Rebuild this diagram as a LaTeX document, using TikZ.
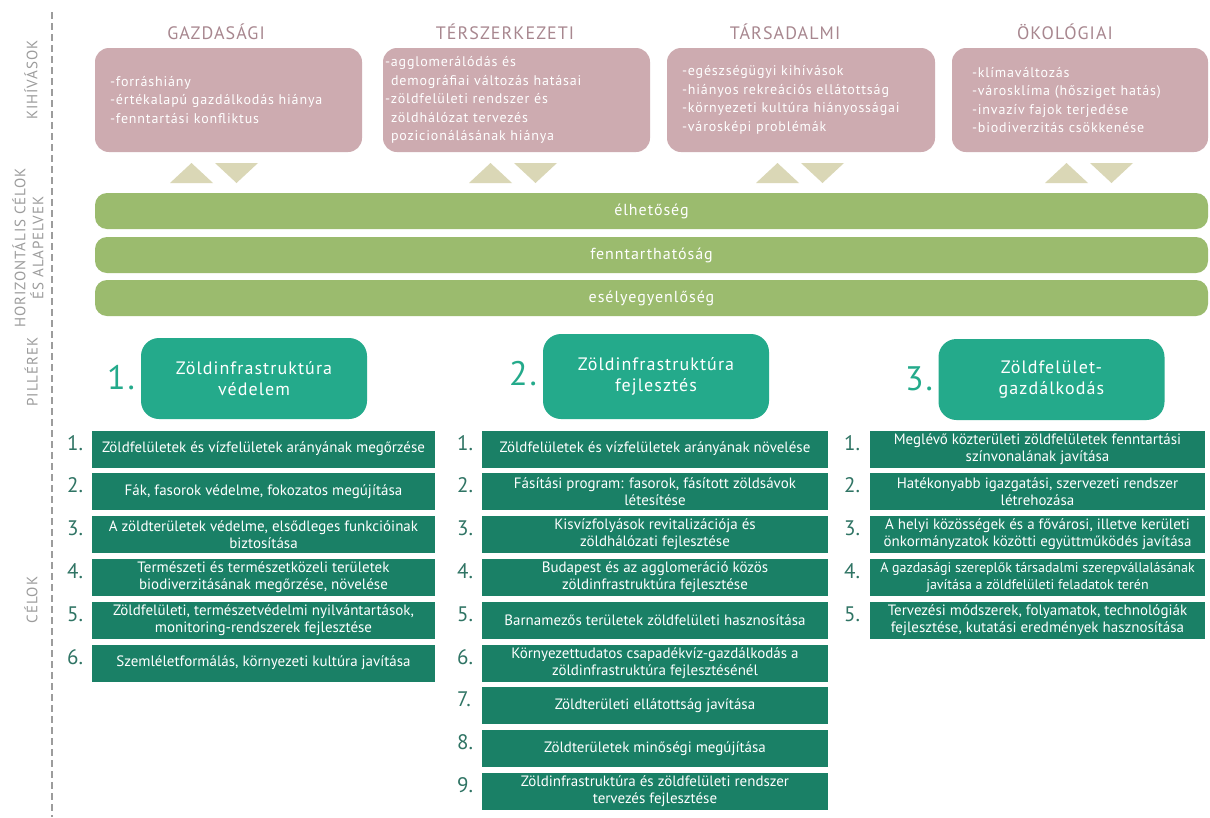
\documentclass[tikz,border=0pt]{standalone}
\usepackage{fontspec}
\setmainfont{PT Sans}
\newfontfamily\dinfont[LetterSpace=6]{PT Sans}
\definecolor{rose}{HTML}{CDABB0}
\definecolor{roseText}{HTML}{A8878F}
\definecolor{khaki}{HTML}{DAD7B6}
\definecolor{leaf}{HTML}{9BBB6E}
\definecolor{pillarCol}{HTML}{24AA8B}
\definecolor{goalCol}{HTML}{1A8066}
\definecolor{goalNum}{HTML}{2F7464}
\definecolor{sideCol}{HTML}{9C9C9C}

\begin{document}
\begin{tikzpicture}[x=1pt,y=-1pt,
  sidelabel/.style={rotate=90,text=sideCol,align=center,
    font=\dinfont\fontsize{15}{18}\selectfont},
  title/.style={text=roseText,font=\dinfont\fontsize{18}{20}\selectfont},
  challenge/.style={fill=rose,rounded corners=14pt,minimum width=267pt,
    minimum height=104pt,text width=237pt,inner xsep=15pt,align=left,
    text=white,font=\dinfont\fontsize{14}{18.5}\selectfont},
  bar/.style={fill=leaf,rounded corners=12pt,minimum width=1113pt,
    minimum height=36pt,text=white,font=\dinfont\fontsize{16}{18}\selectfont},
  pillar/.style={fill=pillarCol,rounded corners=18pt,minimum width=226pt,
    minimum height=81pt,align=center,text=white,
    font=\dinfont\fontsize{18}{21}\selectfont},
  pnum/.style={text=pillarCol,anchor=base west,inner sep=0pt,
    font=\dinfont\fontsize{34}{34}\selectfont},
  goal/.style={fill=goalCol,minimum height=37pt,align=center,inner sep=1pt,
    text=white,font=\fontsize{15}{17}\selectfont},
  gnum/.style={text=goalNum,anchor=base west,inner sep=0pt,
    font=\fontsize{21}{21}\selectfont}]
  %
  % Canvas
  \fill[white] (0,0) rectangle (1210,817);
  \useasboundingbox (0,0) rectangle (1210,817);
  %
  % Separator and row labels
  \draw[sideCol,line width=2.5pt,dash pattern=on 7pt off 4pt] (52,12) -- (52,817);
  \node[sidelabel] (kih) at (31,80) {KIHÍVÁSOK};
  \node[sidelabel] (hor) at (28,248) {HORIZONTÁLIS CÉLOK\\ÉS ALAPELVEK};
  \node[sidelabel] (pil) at (31,372) {PILLÉREK};
  \node[sidelabel] (cel) at (31,600) {CÉLOK};
  %
  % Challenges
  \node[title] (gazdT) at (216,32) {GAZDASÁGI};
  \node[title] (terT) at (505,32) {TÉRSZERKEZETI};
  \node[title] (tarsT) at (785,32) {TÁRSADALMI};
  \node[title] (okoT) at (1065,32) {ÖKOLÓGIAI};
  \node[challenge] (gazd) at (228.5,100)
    {-forráshiány\\-értékalapú gazdálkodás hiánya\\-fenntartási konfliktus};
  \node[challenge,inner xsep=2pt,text width=263pt] (ter) at (516.5,100)
    {-agglomerálódás és\\\hspace*{6pt}demográfiai változás hatásai\\
     -zöldfelületi rendszer és\\\hspace*{6pt}zöldhálózat tervezés\\
     \hspace*{6pt}pozicionálásának hiánya};
  \node[challenge,minimum width=268pt,text width=238pt] (tars) at (801,100)
    {-egészségügyi kihívások\\-hiányos rekreációs ellátottság\\
     -környezeti kultúra hiányosságai\\-városképi problémák};
  \node[challenge,minimum width=256pt,inner xsep=20pt,text width=216pt] (oko) at (1080,100)
    {-klímaváltozás\\-városklíma (hősziget hatás)\\
     -invazív fajok terjedése\\-biodiverzitás csökkenése};
  %
  % Triangles
  \fill[khaki] (170,183) -- (191.5,163) -- (213,183) -- cycle;
  \fill[khaki] (215,163) -- (258,163) -- (236.5,183) -- cycle;
  \fill[khaki] (469,183) -- (490.5,163) -- (512,183) -- cycle;
  \fill[khaki] (514,163) -- (557,163) -- (535.5,183) -- cycle;
  \fill[khaki] (756,183) -- (777.5,163) -- (799,183) -- cycle;
  \fill[khaki] (801,163) -- (844,163) -- (822.5,183) -- cycle;
  \fill[khaki] (1045,183) -- (1066.5,163) -- (1088,183) -- cycle;
  \fill[khaki] (1090,163) -- (1133,163) -- (1111.5,183) -- cycle;
  %
  % Horizontal goals
  \node[bar] (elh) at (651.5,211) {élhetőség};
  \node[bar] (fenn) at (651.5,255) {fenntarthatóság};
  \node[bar] (esely) at (651.5,298) {esélyegyenlőség};
  %
  % Pillars
  \node[pillar] (pv) at (254,378.5) {Zöldinfrastruktúra\\védelem};
  \node[pillar,minimum height=85pt] (pf) at (656,376.5)
    {Zöldinfrastruktúra\\fejlesztés};
  \node[pillar] (pg) at (1051.5,379.5) {Zöldfelület-\\gazdálkodás};
  \node[pnum] (npv) at (107,389) {1.};
  \node[pnum] (npf) at (509,385) {2.};
  \node[pnum] (npg) at (905,390) {3.};
  %
  % Goals: protection
  \node[goal,minimum width=343pt] (v1) at (263.5,449)
    {Zöldfelületek és vízfelületek arányának megőrzése};
  \node[goal,minimum width=343pt] (v2) at (263.5,491.8)
    {Fák, fasorok védelme, fokozatos megújítása};
  \node[goal,minimum width=343pt] (v3) at (263.5,534.6)
    {A zöldterületek védelme, elsődleges funkcióinak\\biztosítása};
  \node[goal,minimum width=343pt] (v4) at (263.5,577.4)
    {Természeti és természetközeli területek\\biodiverzitásának megőrzése, növelése};
  \node[goal,minimum width=343pt] (v5) at (263.5,620.2)
    {Zöldfelületi, természetvédelmi nyilvántartások,\\monitoring-rendszerek fejlesztése};
  \node[goal,minimum width=343pt] (v6) at (263.5,663)
    {Szemléletformálás, környezeti kultúra javítása};
  \node[gnum] (nv1) at (67,450) {1.};
  \node[gnum] (nv2) at (67,492.8) {2.};
  \node[gnum] (nv3) at (67,535.6) {3.};
  \node[gnum] (nv4) at (67,578.4) {4.};
  \node[gnum] (nv5) at (67,621.2) {5.};
  \node[gnum] (nv6) at (67,664) {6.};
  %
  % Goals: development
  \node[goal,minimum width=346pt] (f1) at (655,449)
    {Zöldfelületek és vízfelületek arányának növelése};
  \node[goal,minimum width=346pt] (f2) at (655,491.8)
    {Fásítási program: fasorok, fásított zöldsávok\\létesítése};
  \node[goal,minimum width=346pt] (f3) at (655,534.6)
    {Kisvízfolyások revitalizációja és\\zöldhálózati fejlesztése};
  \node[goal,minimum width=346pt] (f4) at (655,577.4)
    {Budapest és az agglomeráció közös\\zöldinfrastruktúra fejlesztése};
  \node[goal,minimum width=346pt] (f5) at (655,620.2)
    {Barnamezős területek zöldfelületi hasznosítása};
  \node[goal,minimum width=346pt] (f6) at (655,663)
    {Környezettudatos csapadékvíz-gazdálkodás a\\zöldinfrastruktúra fejlesztésénél};
  \node[goal,minimum width=346pt] (f7) at (655,705.8)
    {Zöldterületi ellátottság javítása};
  \node[goal,minimum width=346pt] (f8) at (655,748.6)
    {Zöldterületek minőségi megújítása};
  \node[goal,minimum width=346pt] (f9) at (655,791.4)
    {Zöldinfrastruktúra és zöldfelületi rendszer\\tervezés fejlesztése};
  \node[gnum] (nf1) at (457,450) {1.};
  \node[gnum] (nf2) at (457,492.8) {2.};
  \node[gnum] (nf3) at (457,535.6) {3.};
  \node[gnum] (nf4) at (457,578.4) {4.};
  \node[gnum] (nf5) at (457,621.2) {5.};
  \node[gnum] (nf6) at (457,664) {6.};
  \node[gnum] (nf7) at (457,706.8) {7.};
  \node[gnum] (nf8) at (457,749.6) {8.};
  \node[gnum] (nf9) at (457,792.4) {9.};
  %
  % Goals: management
  \node[goal,minimum width=335pt] (g1) at (1037.5,449)
    {Meglévő közterületi zöldfelületek fenntartási\\színvonalának javítása};
  \node[goal,minimum width=335pt] (g2) at (1037.5,491.8)
    {Hatékonyabb igazgatási, szervezeti rendszer\\létrehozása};
  \node[goal,minimum width=335pt] (g3) at (1037.5,534.6)
    {A helyi közösségek és a fővárosi, illetve kerületi\\önkormányzatok közötti együttműködés javítása};
  \node[goal,minimum width=335pt,font=\fontsize{14}{17}\selectfont] (g4) at (1037.5,577.4)
    {A gazdasági szereplők társadalmi szerepvállalásának\\javítása a zöldfelületi feladatok terén};
  \node[goal,minimum width=335pt] (g5) at (1037.5,620.2)
    {Tervezési módszerek, folyamatok, technológiák\\fejlesztése, kutatási eredmények hasznosítása};
  \node[gnum] (ng1) at (844,450) {1.};
  \node[gnum] (ng2) at (844,492.8) {2.};
  \node[gnum] (ng3) at (844,535.6) {3.};
  \node[gnum] (ng4) at (844,578.4) {4.};
  \node[gnum] (ng5) at (844,621.2) {5.};
  %
\end{tikzpicture}
\end{document}
